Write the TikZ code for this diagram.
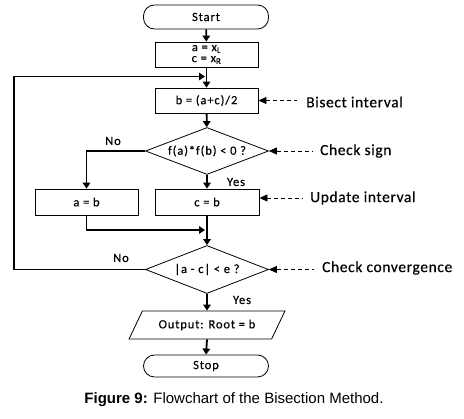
\documentclass[tikz,border=0pt]{standalone}
\usepackage{fontspec}
\setmainfont{Carlito}
\newfontfamily\boxfont[LetterSpace=7, FakeBold=0.4]{Carlito}
\newfontfamily\notefont[LetterSpace=4, FakeBold=0.4]{Carlito}
\newfontfamily\captionfont{Liberation Sans}
\usetikzlibrary{shapes.geometric,arrows.meta}
\tikzset{
  flowline/.style = {line width = 1.8pt, -{Triangle[width = 7.5pt, length = 6pt]}},
  noteline/.style = {dash pattern = on 4pt off 3pt, line width = 0.8pt, {Triangle[width = 7pt, length = 8pt]}-},
  procbox/.style = {draw, line width = 0.8pt, minimum width = 103pt, minimum height = 25pt, inner sep = 0pt, align = center, font = \boxfont\fontsize{12.5}{12}\selectfont},
  termbox/.style = {procbox, minimum width = 125pt, minimum height = 23pt, rounded corners = 11pt},
  decbox/.style = {diamond, aspect = 2.6, draw, line width = 0.8pt, minimum width = 123pt, minimum height = 47pt, inner sep = 0pt, font = \boxfont\fontsize{12.5}{12}\selectfont},
  notetext/.style = {anchor = west, inner sep = 0pt, font = \notefont\fontsize{15.5}{16}\selectfont},
  smalltext/.style = {inner sep = 0pt, font = \boxfont\fontsize{12.5}{12}\selectfont}
}
\begin{document}
\begin{tikzpicture}[x = 1pt, y = -1pt]
\useasboundingbox (0,0) rectangle (464,419);
% main column
\node[termbox, minimum height = 24pt] (start) at (206,17) {Start};
\node[procbox] (init) at (206.5,54.5) {a = x\textsubscript{L}\\[-1pt]c = x\textsubscript{R}};
\node[procbox] (bisect) at (206.5,100.5) {b = (a+c)/2};
\node[decbox] (sign) at (207,151) {f(a)*f(b) < 0 ?};
\node[procbox, minimum height = 26pt] (upa) at (86.5,202) {a = b};
\node[procbox, minimum width = 104pt, minimum height = 26pt] (upc) at (207,202) {c = b};
\node[decbox, minimum height = 48pt] (conv) at (207,269.5) {|a - c| < e ?};
\node[trapezium, draw, line width = 0.8pt, trapezium left angle = 47, trapezium right angle = 133, trapezium stretches = true, minimum width = 156pt, minimum height = 28pt, inner sep = 0pt, font = \boxfont\fontsize{12.5}{12}\selectfont] (out) at (207,325) {Output: Root = b};
\node[termbox, minimum height = 22pt] (stop) at (206,366) {Stop};
% join points
\coordinate (loopcorner) at (14,76.5);
\coordinate (loopin) at (205,76.5);
\coordinate (joinin) at (205,230);
% arrows
\draw[flowline] (start) -- (init);
\draw[flowline] (init) -- (bisect);
\draw[flowline] (bisect) -- (sign);
\draw[flowline] (sign.south) -- (upc.north);
\draw[flowline] (sign.west) -| (upa.north);
\draw[flowline] (upc.south) -- (conv.north);
\draw[flowline] (upa.south) |- (joinin);
\draw[flowline] (conv.west) -| (loopcorner) -- (loopin);
\draw[flowline] (conv.south) -- (out.north);
\draw[flowline] (out.south) -- (stop.north);
% branch labels
\node[smalltext] (no1) at (113,141) {No};
\node[smalltext] (yes1) at (236,182) {Yes};
\node[smalltext] (no2) at (121,258) {No};
\node[smalltext] (yes2) at (242,300) {Yes};
% notes
\node[notetext] (notebisect) at (306,102) {Bisect interval};
\node[notetext] (notesign) at (320,151) {Check sign};
\node[notetext] (noteupdate) at (310,198) {Update interval};
\node[notetext] (noteconv) at (322,268) {Check convergence};
\draw[noteline] (bisect.east) -- ++(39,0) coordinate (n1);
\draw[noteline] (sign.east) -- ++(43,0) coordinate (n2);
\draw[noteline] (upc.east |- noteupdate) -- ++(43,0) coordinate (n3);
\draw[noteline] (conv.east) -- ++(45,0) coordinate (n4);
% caption
\node[inner sep = 0pt, font = \captionfont\fontsize{15}{16}\selectfont] (caption) at (234,400) {\textbf{Figure 9:} Flowchart of the Bisection Method.};
\end{tikzpicture}
\end{document}
